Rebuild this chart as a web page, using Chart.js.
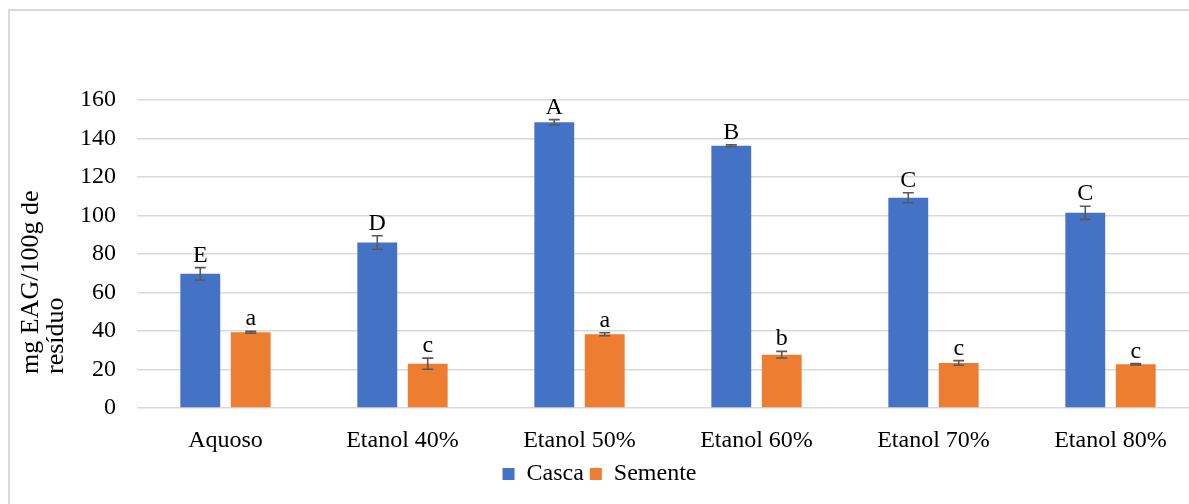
<!DOCTYPE html>
<html>
<head>
<meta charset="utf-8">
<script src="https://cdn.jsdelivr.net/npm/chart.js@4.4.0/dist/chart.umd.min.js"></script>
<style>
    html, body { margin: 0; padding: 0; overflow: hidden; background: #fff; }
    #wrap { position: relative; width: 1189px; height: 504px; overflow: hidden; }
    #frame { position: absolute; left: 8px; top: 9px; width: 1300px; height: 600px; border: 2px solid #d9d9d9; box-sizing: border-box; }
    canvas { position: absolute; left: 0; top: 0; }
</style>
</head>
<body>
<div id="wrap">
    <div id="frame"></div>
    <canvas id="chart" width="1210" height="504"></canvas>
</div>
<script>
const categories = ["Aquoso", "Etanol 40%", "Etanol 50%", "Etanol 60%", "Etanol 70%", "Etanol 80%"];
const cascaValues = [69.7, 86.0, 148.4, 136.2, 109.2, 101.4];
const cascaErrors = [3.2, 3.5, 1.4, 0.5, 2.6, 3.4];
const cascaLetters = ["E", "D", "A", "B", "C", "C"];
const sementeValues = [39.4, 23.0, 38.3, 27.7, 23.4, 22.7];
const sementeErrors = [0.5, 2.9, 0.8, 1.7, 1.2, 0.4];
const sementeLetters = ["a", "c", "a", "b", "c", "c"];
const yTicks = [0, 20, 40, 60, 80, 100, 120, 140, 160];
const yTitleLines = ["mg EAG/100g de", "resíduo"];

const serif = "'Liberation Serif', 'Times New Roman', serif";
const errors = [cascaErrors, sementeErrors];
const letters = [cascaLetters, sementeLetters];

// error bars + significance letters above each bar
const barExtras = {
    id: "barExtras",
    afterDatasetsDraw(chart) {
        const ctx = chart.ctx;
        const y = chart.scales.y;
        ctx.save();
        chart.data.datasets.forEach((ds, di) => {
            const meta = chart.getDatasetMeta(di);
            meta.data.forEach((bar, i) => {
                const v = ds.data[i];
                const e = errors[di][i];
                const top = y.getPixelForValue(v + e);
                const bot = y.getPixelForValue(v - e);
                ctx.strokeStyle = "#595959";
                ctx.lineWidth = 1.6;
                ctx.beginPath();
                ctx.moveTo(bar.x, top); ctx.lineTo(bar.x, bot);
                ctx.moveTo(bar.x - 5.5, top); ctx.lineTo(bar.x + 5.5, top);
                ctx.moveTo(bar.x - 5.5, bot); ctx.lineTo(bar.x + 5.5, bot);
                ctx.stroke();

                ctx.fillStyle = "#000";
                ctx.font = "24px " + serif;
                ctx.textAlign = "center";
                ctx.textBaseline = "alphabetic";
                ctx.fillText(letters[di][i], bar.x, top - 6);
            });
        });
        ctx.restore();
    }
};

// two-line rotated y title, lines aligned at their start
const yTitle = {
    id: "yTitle",
    afterDraw(chart) {
        const ctx = chart.ctx;
        ctx.save();
        ctx.font = "26px " + serif;
        ctx.fillStyle = "#000";
        ctx.textAlign = "left";
        ctx.textBaseline = "middle";
        ctx.translate(0, 374);
        ctx.rotate(-Math.PI / 2);
        ctx.fillText(yTitleLines[0], 0, 31);
        ctx.fillText(yTitleLines[1], 0, 56);
        ctx.restore();
    }
};

new Chart(document.getElementById("chart").getContext("2d"), {
    type: "bar",
    data: {
        labels: categories,
        datasets: [
            { label: "Casca", data: cascaValues, backgroundColor: "#4472C4" },
            { label: "Semente", data: sementeValues, backgroundColor: "#ED7D31" }
        ]
    },
    options: {
        responsive: false,
        animation: false,
        categoryPercentage: 0.57,
        barPercentage: 0.79,
        layout: { padding: { top: 100, right: 11, bottom: 8, left: 0 } },
        plugins: {
            legend: {
                position: "bottom",
                labels: {
                    color: "#000",
                    font: { family: serif, size: 24 },
                    boxWidth: 12,
                    boxHeight: 12,
                    padding: 6
                }
            },
            tooltip: { enabled: false }
        },
        scales: {
            x: {
                grid: { display: false },
                border: { display: false },
                ticks: { color: "#000", font: { family: serif, size: 24 }, padding: 10, maxRotation: 0 },
                afterFit: s => { s.height = 48; }
            },
            y: {
                min: 0,
                max: 160,
                afterBuildTicks: s => { s.ticks = yTicks.map(v => ({ value: v })); },
                grid: { color: "#d9d9d9", lineWidth: 1.6, drawTicks: false },
                border: { display: false },
                ticks: { color: "#000", font: { family: serif, size: 24 }, padding: 21 },
                afterFit: s => { s.width = 137; }
            }
        }
    },
    plugins: [barExtras, yTitle]
});
</script>
</body>
</html>
